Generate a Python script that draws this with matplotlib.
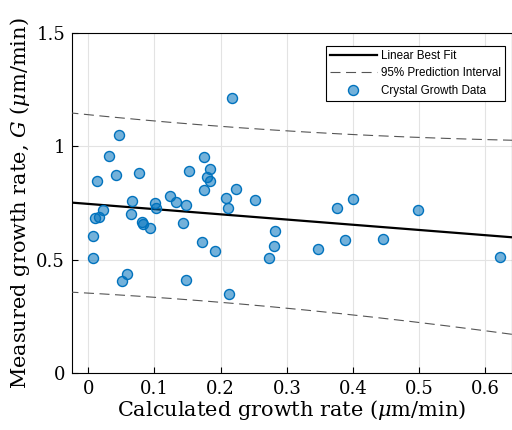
import numpy as np
import matplotlib.pyplot as plt

# calculated vs measured growth rate (um/min)
calc_rate = [0.2168, 0.0469, 0.0313, 0.1745, 0.0424, 0.0767, 0.1523, 0.1836,
             0.1795, 0.1836, 0.0136, 0.1745, 0.2234, 0.1241, 0.2073, 0.2521,
             0.3994, 0.0661, 0.1331, 0.1014, 0.1478, 0.1019, 0.2113, 0.3752,
             0.4987, 0.0222, 0.0651, 0.0096, 0.0161, 0.0817, 0.0832, 0.1432,
             0.0938, 0.2824, 0.0066, 0.1720, 0.3883, 0.4453, 0.1921, 0.3470,
             0.2809, 0.2733, 0.0066, 0.6213, 0.0585, 0.0504, 0.1478, 0.2128]
meas_rate = [1.2115, 1.0496, 0.9569, 0.9510, 0.8730, 0.8830, 0.8890, 0.8990,
             0.8630, 0.8460, 0.8450, 0.8070, 0.8126, 0.7817, 0.7700, 0.7640,
             0.7680, 0.7600, 0.7540, 0.7480, 0.7430, 0.7300, 0.7300, 0.7260,
             0.7170, 0.7180, 0.7020, 0.6860, 0.6875, 0.6650, 0.6580, 0.6620,
             0.6390, 0.6270, 0.6036, 0.5785, 0.5860, 0.5930, 0.5400, 0.5460,
             0.5590, 0.5060, 0.5080, 0.5120, 0.4357, 0.4080, 0.4090, 0.3490]

# fit parameters
fit_intercept = 0.746
fit_slope = -0.23
# prediction interval half-width: hw^2 = pi_hw0^2 + pi_curv*(x - pi_xc)^2
pi_hw0 = 0.388
pi_xc = 0.17
pi_curv = 0.148

x = np.array(calc_rate)
y = np.array(meas_rate)

xf = np.linspace(-0.03, 0.65, 200)
yf = fit_intercept + fit_slope * xf
hw = np.sqrt(pi_hw0**2 + pi_curv * (xf - pi_xc)**2)

plt.rcParams['font.family'] = 'DejaVu Serif'
plt.rcParams['mathtext.fontset'] = 'dejavuserif'

fig = plt.figure(figsize=(5.12, 4.3), dpi=100)
ax = fig.add_axes([72/512, 1 - 373/430, 440/512, 340/430])

ax.grid(True, color='#e3e3e3', lw=0.8, zorder=0)
ax.plot(xf, yf, color='k', lw=1.6, label='Linear Best Fit', zorder=3)
ax.plot(xf, yf + hw, color='#555555', lw=0.8, ls=(0, (9, 5)),
        label='95% Prediction Interval', zorder=3)
ax.plot(xf, yf - hw, color='#555555', lw=0.8, ls=(0, (9, 5)), zorder=3)
ax.scatter(x, y, s=52, facecolor=(0, 0.447, 0.741, 0.55), edgecolor='#0072BD',
           lw=1.0, label='Crystal Growth Data', zorder=4)

ax.set_xlim(-0.0246, 0.6401)
ax.set_ylim(0, 1.5)
ax.set_xticks([0, 0.1, 0.2, 0.3, 0.4, 0.5, 0.6])
ax.set_xticklabels(['0', '0.1', '0.2', '0.3', '0.4', '0.5', '0.6'])
ax.set_yticks([0, 0.5, 1, 1.5])
ax.set_yticklabels(['0', '0.5', '1', '1.5'])
ax.tick_params(direction='in', length=4, width=0.8, labelsize=13, pad=5)
for sp in ax.spines.values():
    sp.set_linewidth(0.8)

ax.set_xlabel(r'Calculated growth rate ($\mu$m/min)', fontsize=15, labelpad=0)
ax.set_ylabel(r'Measured growth rate, $G$ ($\mu$m/min)', fontsize=15, labelpad=3)

leg = ax.legend(loc='upper right', bbox_to_anchor=(0.984, 0.962),
                prop={'family': 'Liberation Sans', 'size': 8.4},
                fancybox=False, framealpha=1, edgecolor='k',
                handlelength=4.0, handletextpad=0.35, borderpad=0.35,
                labelspacing=0.45, borderaxespad=0)
leg.get_frame().set_linewidth(0.8)

plt.savefig('out.png', dpi=100)
